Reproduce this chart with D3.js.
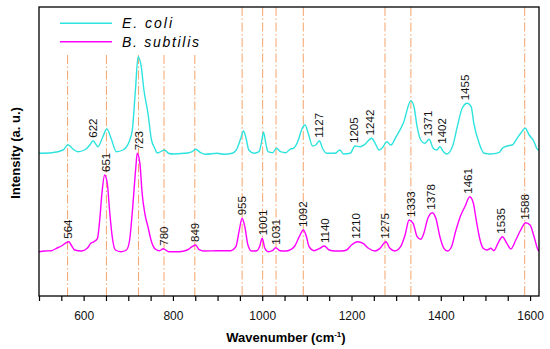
<!DOCTYPE html>
<html>
<head>
<meta charset="utf-8">
<script src="https://cdn.jsdelivr.net/npm/d3@7"></script>
<style>
  body { margin: 0; background: #fff; }
  svg { display: block; }
  text { font-family: "Liberation Sans", Arial, sans-serif; }
</style>
</head>
<body>
<svg id="chart" width="550" height="349"></svg>
<script>
// Raman spectra: [wavenumber (cm-1), intensity above baseline (a.u.)]
const ecoliSpectrum = [
  [500,-0.3],[528,0.3],[554,3],[565,8.3],[576,4],[587,1.3],[602,3],[614,8],[621,12.3],[632,6.3],
  [643,16.3],[652,24],[662,14],[673,1.3],[688,3],[701,10.3],[709,23],[716,63],[722,96.3],[729,86.3],
  [735,63],[744,40],[752,13],[759,5],[765,0],[781,3],[791,-0.5],[802,-1],[825,-0.3],[836,0.3],
  [843,1.3],[851,3.7],[862,0.3],[873,-1.3],[899,-0.3],[914,-1.3],[933,-0.3],[944,4.7],[952,14.7],[958,22],
  [963,16.3],[970,3],[982,-0.3],[993,1.3],[998,9.7],[1003,20.7],[1008,9.7],[1013,1.3],[1023,0.3],[1032,4.7],
  [1041,1.3],[1053,0.3],[1062,3.7],[1070,4.7],[1081,13],[1088,23],[1096,28],[1103,19.7],[1113,7],[1120,8],
  [1128,12.3],[1135,4.7],[1144,-0.3],[1163,-0.3],[1174,3],[1182,-1],[1197,-0.3],[1208,7],[1219,6.3],[1230,8.7],
  [1245,14.7],[1253,9.7],[1262,3],[1270,5.7],[1279,11.3],[1288,8],[1300,16.3],[1316,29.7],[1333,52.3],[1340,46.3],
  [1347,26.3],[1355,13],[1364,9.7],[1374,13.7],[1383,4.7],[1391,3],[1398,6.3],[1406,1.3],[1413,-1],[1426,6.3],
  [1437,26.3],[1448,44.7],[1459,49.7],[1468,46.3],[1474,29.7],[1486,9.7],[1497,-0.3],[1512,-1],[1530,0.3],[1538,4.7],
  [1549,7],[1560,8],[1571,14.7],[1579,19.7],[1589,24.7],[1598,18],[1609,11.3],[1616,3.7],[1620,3]
];

const bsubSpectrum = [
  [500,0.3],[513,1],[528,1.3],[539,3.7],[550,6],[561,9.3],[567,10.3],[572,7],[580,2],[595,1],
  [608,3.7],[616,8.7],[623,10.3],[631,13.7],[636,32],[641,58.7],[647,77],[653,68.7],[658,42],[664,15.3],
  [671,2],[684,0.3],[696,2],[703,12],[710,45.3],[717,85.3],[720,98.7],[726,88.7],[731,58.7],[737,38.7],
  [744,25.3],[752,10.3],[761,2.7],[770,1.3],[778,3.3],[791,0.3],[814,0.3],[832,2],[843,5.3],[851,7],
  [858,2.7],[870,1],[899,1.3],[929,1.3],[941,5.3],[948,20.3],[955,33.7],[961,25.3],[968,7],[976,1],
  [988,1.3],[994,5.3],[1000,13.7],[1006,3.7],[1013,0.3],[1023,1.3],[1030,4.3],[1040,1.3],[1053,1],[1062,2],
  [1073,6],[1083,15.3],[1092,22],[1098,17],[1105,5.3],[1116,1.3],[1129,3.7],[1139,6],[1150,2],[1163,1],
  [1178,1],[1189,2],[1200,7],[1214,10.3],[1226,8.7],[1238,3.7],[1253,1],[1264,3.7],[1277,10.3],[1286,3.7],
  [1297,1],[1310,5.3],[1320,17],[1329,32],[1338,28.7],[1347,15.3],[1355,12.7],[1362,18.7],[1371,33.7],[1381,39.3],
  [1389,33.7],[1398,15.3],[1407,3.7],[1415,1],[1424,5.3],[1433,20.3],[1445,37],[1454,45.3],[1465,55.3],[1473,48.7],
  [1480,30.3],[1488,12],[1495,3.7],[1504,2],[1512,3.7],[1519,1.3],[1528,8.7],[1538,15.3],[1548,8.7],[1557,3],
  [1568,12],[1579,22],[1590,29.3],[1600,27],[1609,15.3],[1618,2],[1620,1]
];

const ecoliPeaks = [622, 1127, 1205, 1242, 1371, 1402, 1455];
const bsubPeaks = [564, 651, 723, 780, 849, 955, 1001, 1031, 1092, 1140, 1210, 1275, 1333, 1378, 1461, 1535, 1588];
const markerLines = [564, 651, 723, 780, 849, 955, 1001, 1031, 1092, 1275, 1333, 1588];
const xTicks = d3.range(500, 1601, 50);
const seriesNames = ["E. coli", "B. subtilis"];

// vertical offsets of the stacked spectra (a.u.)
const ECOLI_OFFSET = 143, BSUB_OFFSET = 44;

const svg = d3.select("#chart");
const plotLeft = 39, plotRight = 539, plotTop = 7, plotBottom = 296;

const x = d3.scaleLinear().domain([500, 1620]).range([plotLeft, plotRight]);
const y = d3.scaleLinear().domain([0, 289]).range([plotBottom, plotTop]);

const series = [
  {name: seriesNames[0], data: ecoliSpectrum, offset: ECOLI_OFFSET, color: "#2DE3DE", peaks: ecoliPeaks},
  {name: seriesNames[1], data: bsubSpectrum, offset: BSUB_OFFSET, color: "#FF00FF", peaks: bsubPeaks}
];

// legend box, lines under it start lower
const legendRight = 205, legendBottom = 55;

svg.append("g").selectAll("line")
  .data(markerLines)
  .join("line")
    .attr("x1", d => x(d)).attr("x2", d => x(d))
    .attr("y1", d => x(d) < legendRight ? legendBottom : plotTop)
    .attr("y2", plotBottom)
    .attr("stroke", "#F5A46C")
    .attr("stroke-width", 1)
    .attr("stroke-dasharray", "9,2.5,1.5,2.5");

const line = d3.line().curve(d3.curveMonotoneX);

series.forEach(s => {
  svg.append("path")
    .attr("d", line(s.data.map(d => [x(d[0]), y(d[1] + s.offset)])))
    .attr("fill", "none")
    .attr("stroke", s.color)
    .attr("stroke-width", 1.4)
    .attr("stroke-linejoin", "round");
});

// peak labels sit just above the local maximum of each spectrum
series.forEach(s => {
  svg.append("g").selectAll("text")
    .data(s.peaks)
    .join("text")
      .attr("transform", p => {
        const near = s.data.filter(d => Math.abs(d[0] - p) <= 8);
        const peakTop = d3.max(near, d => d[1]) + s.offset;
        return `translate(${x(p)},${y(peakTop) - 3}) rotate(-90)`;
      })
      .attr("dy", "0.35em")
      .attr("font-size", "11.5px")
      .attr("fill", "#111")
      .text(p => p);
});

// frame
svg.append("rect")
  .attr("x", plotLeft).attr("y", plotTop)
  .attr("width", plotRight - plotLeft).attr("height", plotBottom - plotTop)
  .attr("fill", "none").attr("stroke", "#000").attr("stroke-width", 1.3);

const xAxis = svg.append("g")
  .attr("transform", `translate(0,${plotBottom})`)
  .call(d3.axisBottom(x).tickValues(xTicks).tickSize(5).tickPadding(10)
    .tickFormat(d => d % 200 === 0 ? d : ""));
xAxis.select(".domain").remove();
xAxis.selectAll(".tick line").attr("stroke-width", 1.2);
xAxis.selectAll(".tick text")
  .attr("font-family", "Liberation Sans, Arial, sans-serif")
  .attr("font-size", "12px").attr("fill", "#111");

// axis titles
const xTitle = svg.append("text")
  .attr("x", 286).attr("y", 342)
  .attr("text-anchor", "middle")
  .attr("font-size", "13px").attr("font-weight", "bold");
xTitle.append("tspan").text("Wavenumber (cm");
xTitle.append("tspan").attr("font-size", "8px").attr("dy", "-5").text("-1");
xTitle.append("tspan").attr("dy", "5").text(")");

svg.append("text")
  .attr("transform", "translate(20,153) rotate(-90)")
  .attr("text-anchor", "middle")
  .attr("font-size", "13px").attr("font-weight", "bold")
  .text("Intensity (a. u.)");

// legend
const legend = svg.append("g").selectAll("g")
  .data(series)
  .join("g")
    .attr("transform", (d, i) => `translate(60,${23.3 + i * 18.4})`);
legend.append("line")
  .attr("x1", 0).attr("x2", 52)
  .attr("stroke", d => d.color).attr("stroke-width", 1.4);
legend.append("text")
  .attr("x", 62).attr("y", 5)
  .attr("font-size", "14px").attr("font-style", "italic")
  .attr("textLength", (d, i) => i === 0 ? 50 : 77)
  .attr("lengthAdjust", "spacing")
  .text(d => d.name);
</script>
</body>
</html>
